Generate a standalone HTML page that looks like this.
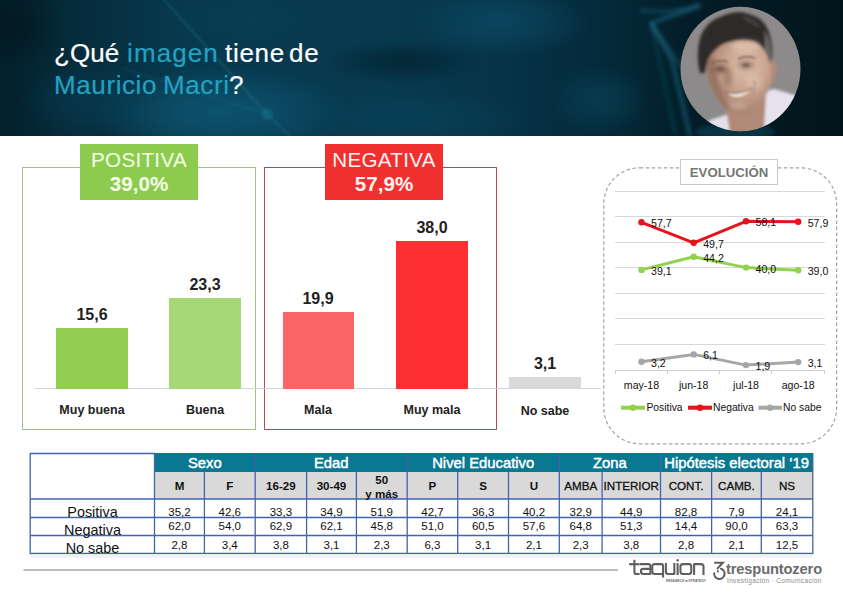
<!DOCTYPE html>
<html><head><meta charset="utf-8">
<style>
*{margin:0;padding:0;box-sizing:border-box}
html,body{width:843px;height:593px;overflow:hidden;background:#fff;font-family:"Liberation Sans",sans-serif}
.a{position:absolute;white-space:nowrap}
#hdr{position:absolute;left:0;top:0;width:843px;height:136px;overflow:hidden;
 background:
  radial-gradient(ellipse 110px 60px at 230px 105px, rgba(16,95,125,.55), rgba(16,95,125,0) 100%),
  radial-gradient(ellipse 130px 55px at 470px 30px, rgba(14,80,110,.55), rgba(14,80,110,0) 100%),
  radial-gradient(ellipse 90px 50px at 120px 120px, rgba(12,75,100,.45), rgba(12,75,100,0) 100%),
  radial-gradient(ellipse 80px 50px at 610px 105px, rgba(12,70,90,.35), rgba(12,70,90,0) 100%),
  linear-gradient(90deg,#031a24 0%,#072c3d 15%,#093650 35%,#0a3850 55%,#062435 72%,#03141c 88%,#02111a 100%);}
.tt{position:absolute;font-size:26px;line-height:31px;color:#fff;letter-spacing:0.6px;white-space:nowrap;-webkit-text-stroke:0.2px currentColor}
.c{color:#22a2c2}
.lab{position:absolute;color:#f4ffe8;text-align:center;white-space:nowrap}
.val{position:absolute;font-size:16px;font-weight:bold;color:#222;text-align:center;width:100px;line-height:18px}
.cat{position:absolute;font-size:12.5px;font-weight:bold;color:#222;text-align:center;width:120px;line-height:15px}
.ev{position:absolute;font-size:10.6px;color:#111;line-height:12px;white-space:nowrap}
.th{position:absolute;color:#fff;font-size:14.8px;font-weight:normal;-webkit-text-stroke:0.45px #fff;text-align:center;line-height:16px}
.sh{position:absolute;color:#111;font-size:11.6px;font-weight:bold;text-align:center;line-height:13px}
.td{position:absolute;color:#111;font-size:11.5px;text-align:center;line-height:13px}
.rl{position:absolute;color:#111;font-size:14.4px;text-align:center;line-height:16px;left:30px;width:125px}
</style></head><body>
<svg class="a" style="left:0;top:0" width="843" height="136" viewBox="0 0 843 136">
 <defs>
  <linearGradient id="hg" x1="0" x2="1" y1="0" y2="0">
   <stop offset="0" stop-color="#03202b"/>
   <stop offset="0.08" stop-color="#052b3a"/>
   <stop offset="0.22" stop-color="#073a4f"/>
   <stop offset="0.45" stop-color="#073a50"/>
   <stop offset="0.6" stop-color="#063347"/>
   <stop offset="0.72" stop-color="#042a3a"/>
   <stop offset="0.82" stop-color="#031d28"/>
   <stop offset="1" stop-color="#02141b"/>
  </linearGradient>
  
  <filter id="g2" x="-50%" y="-50%" width="200%" height="200%"><feGaussianBlur stdDeviation="1.3"/></filter>
 </defs>
 <rect width="843" height="136" fill="url(#hg)"/>
 <defs><radialGradient id="rg0"><stop offset="0" stop-color="#0f5a78" stop-opacity="0.75"/><stop offset="0.5" stop-color="#0f5a78" stop-opacity="0.45"/><stop offset="1" stop-color="#0f5a78" stop-opacity="0"/></radialGradient><radialGradient id="rg1"><stop offset="0" stop-color="#0d4e6a" stop-opacity="0.65"/><stop offset="0.5" stop-color="#0d4e6a" stop-opacity="0.39"/><stop offset="1" stop-color="#0d4e6a" stop-opacity="0"/></radialGradient><radialGradient id="rg2"><stop offset="0" stop-color="#0a475f" stop-opacity="0.5"/><stop offset="0.5" stop-color="#0a475f" stop-opacity="0.30"/><stop offset="1" stop-color="#0a475f" stop-opacity="0"/></radialGradient><radialGradient id="rg3"><stop offset="0" stop-color="#021a24" stop-opacity="0.55"/><stop offset="0.5" stop-color="#021a24" stop-opacity="0.33"/><stop offset="1" stop-color="#021a24" stop-opacity="0"/></radialGradient><radialGradient id="rg4"><stop offset="0" stop-color="#0b4a60" stop-opacity="0.5"/><stop offset="0.5" stop-color="#0b4a60" stop-opacity="0.30"/><stop offset="1" stop-color="#0b4a60" stop-opacity="0"/></radialGradient><radialGradient id="rg5"><stop offset="0" stop-color="#021218" stop-opacity="0.5"/><stop offset="0.5" stop-color="#021218" stop-opacity="0.30"/><stop offset="1" stop-color="#021218" stop-opacity="0"/></radialGradient><radialGradient id="rg6"><stop offset="0" stop-color="#0a4560" stop-opacity="0.4"/><stop offset="0.5" stop-color="#0a4560" stop-opacity="0.24"/><stop offset="1" stop-color="#0a4560" stop-opacity="0"/></radialGradient><radialGradient id="rg7"><stop offset="0" stop-color="#0a4258" stop-opacity="0.35"/><stop offset="0.5" stop-color="#0a4258" stop-opacity="0.21"/><stop offset="1" stop-color="#0a4258" stop-opacity="0"/></radialGradient></defs>
<ellipse cx="220" cy="112" rx="130" ry="45" fill="url(#rg0)"/>
<ellipse cx="500" cy="22" rx="90" ry="35" fill="url(#rg1)"/>
<ellipse cx="420" cy="118" rx="110" ry="28" fill="url(#rg2)"/>
<ellipse cx="400" cy="62" rx="80" ry="22" fill="url(#rg3)"/>
<ellipse cx="600" cy="100" rx="50" ry="35" fill="url(#rg4)"/>
<ellipse cx="15" cy="25" rx="50" ry="45" fill="url(#rg5)"/>
<ellipse cx="80" cy="100" rx="60" ry="40" fill="url(#rg6)"/>
<ellipse cx="250" cy="20" rx="60" ry="25" fill="url(#rg7)"/>
 <filter id="g3" x="-50%" y="-50%" width="200%" height="200%"><feGaussianBlur stdDeviation="2.2"/></filter>
 <g filter="url(#g2)" stroke="#3aa6c8" fill="none" stroke-width="1.6">
  <path d="M164 0 L267 114 L290 136" opacity="0.25"/>
  <path d="M121 68 L267 114" opacity="0.12"/>
 </g>
 <g filter="url(#g3)" stroke="#2f9cc0" fill="none" stroke-width="3">
  <path d="M700 6 L651 23 L672 60 L690 136" opacity="0.45"/>
  <path d="M651 23 L684 70" opacity="0.3"/>
  <path d="M651 23 L664 80 L676 136" opacity="0.2"/>
  <path d="M640 10 Q670 15 700 4" opacity="0.3"/>
 </g>
 <ellipse cx="735" cy="132" rx="40" ry="8" fill="#0c4d62" opacity="0.5" filter="url(#g3)"/>
 <circle cx="267" cy="114" r="6" fill="#2a8fae" opacity="0.25" filter="url(#g2)"/>
</svg>
<div class="tt" style="left:54px;top:38px;letter-spacing:0.1px">¿Qué</div>
<div class="tt c" style="left:127px;top:38px;letter-spacing:1.1px">imagen</div>
<div class="tt" style="left:225px;top:38px;letter-spacing:0.7px">tiene</div>
<div class="tt" style="left:289px;top:38px;letter-spacing:0.8px">de</div>
<div class="tt c" style="left:54px;top:69.5px;letter-spacing:0.6px">Mauricio</div>
<div class="tt c" style="left:163px;top:69.5px;letter-spacing:0.6px">Macri</div>
<div class="tt" style="left:229px;top:69.5px">?</div>

<!-- photo -->
<svg class="a" style="left:680px;top:6px" width="122" height="126" viewBox="0 0 122 126">
 <defs>
  <clipPath id="cp"><ellipse cx="60.5" cy="63" rx="60" ry="62.3"/></clipPath>
  <filter id="bl" x="-30%" y="-30%" width="160%" height="160%"><feGaussianBlur stdDeviation="1.5"/></filter>
  <filter id="bl2" x="-30%" y="-30%" width="160%" height="160%"><feGaussianBlur stdDeviation="1"/></filter>
  <filter id="bl3" x="-50%" y="-50%" width="200%" height="200%"><feGaussianBlur stdDeviation="2.5"/></filter>
  <radialGradient id="sk" cx="0.62" cy="0.4" r="0.65">
   <stop offset="0" stop-color="#dcbeac"/><stop offset="0.45" stop-color="#cba792"/><stop offset="1" stop-color="#9e7a68"/>
  </radialGradient>
 </defs>
 <g clip-path="url(#cp)">
  <rect width="122" height="126" fill="#8d8a8b"/>
  <g filter="url(#bl)">
   <path d="M84 86 L94 83 L118 90 L116 106 L102 118 L86 124 L80 126 Z" fill="#e6e3ee"/>
   <path d="M20 126 L30 114 L49 108 L52 126 Z" fill="#e3e0ea"/>
   <path d="M46 104 L86 88 L84 126 L50 126 Z" fill="#b08a76"/>
   <path d="M88 54 Q96 52 97 61 Q96 73 89 80 Z" fill="#b48c78"/>
   <path d="M25 52 Q27 38 40 33 Q55 27 70 28 Q84 32 88 44 L91 60 Q92 76 88 86 Q82 98 70 106 Q62 110 54 107 Q40 100 33 86 Q26 72 25 52 Z" fill="url(#sk)"/>
   <path d="M26 56 Q28 76 36 90 Q44 102 52 106 Q42 90 38 74 Q35 62 34 50 Z" fill="#94705f" opacity="0.8"/>
   <path d="M18 54 Q17 36 23 25 Q30 14 40 11 Q50 6 61 6 Q72 8 80 13 Q88 20 90 30 Q93 40 92.4 52 L90 57 Q88 50 85 45 Q80 38 73 36 Q64 34 56 35 Q46 36 40 40 Q32 46 28 54 Q26 60 25 67 L20 67 Q18 60 18 54 Z" fill="#2e2a29"/>
   <path d="M84 24 Q91 34 92 52 L90 57 Q88 48 84 43 Q86 34 84 24 Z" fill="#6c6662"/>
   <path d="M62 9 Q74 14 82 22 Q76 20 66 14 Z" fill="#4a4543"/>
  </g>
  <g filter="url(#bl3)">
   <ellipse cx="40" cy="63" rx="8" ry="4.5" fill="#7e5e50" opacity="0.8"/>
   <ellipse cx="66" cy="59" rx="8" ry="4.5" fill="#86665a" opacity="0.65"/>
   <ellipse cx="48" cy="72" rx="4" ry="10" fill="#8f6a58" opacity="0.6"/>
   <ellipse cx="66" cy="40" rx="14" ry="6" fill="#e4c8b6" opacity="0.6"/>
   <ellipse cx="74" cy="76" rx="8" ry="8" fill="#dfc2ae" opacity="0.55"/>
   <ellipse cx="58" cy="100" rx="9" ry="4" fill="#d8baa6" opacity="0.5"/>
  </g>
  <g filter="url(#bl2)">
   <ellipse cx="40" cy="63" rx="3.6" ry="1.6" fill="#6e5a50"/>
   <ellipse cx="66" cy="59" rx="3.6" ry="1.6" fill="#6e5a50"/>
   <path d="M32 57 Q40 53 48 56" stroke="#7d5e50" stroke-width="1.4" fill="none"/>
   <path d="M58 53 Q66 49 75 52" stroke="#7d5e50" stroke-width="1.4" fill="none"/>
   <path d="M48 86.5 Q58 90 70 84 Q62 94 51 90 Z" fill="#ece4dc"/>
   <path d="M45 86 Q58 90 73 82" stroke="#8a5a48" stroke-width="0.9" fill="none"/>
   <path d="M40 76 Q42 86 48 92" stroke="#9a7462" stroke-width="1.2" fill="none"/>
   <path d="M74 74 Q76 82 73 88" stroke="#b08a76" stroke-width="1.1" fill="none"/>
  </g>
 </g>
</svg>

<!-- outline boxes -->
<div class="a" style="left:22px;top:167px;width:234px;height:263px;border:1.3px solid #a2bf8b"></div>
<div class="a" style="left:264px;top:167px;width:233px;height:263px;border:1.3px solid #b44a53"></div>
<div class="lab" style="left:80px;top:144px;width:118px;height:56px;background:#8dcb4f"></div>
<div class="lab" style="left:325px;top:144px;width:118px;height:56px;background:#f0302f"></div>
<div class="lab" style="left:80px;top:148.8px;width:118px;font-size:20.6px;line-height:22px;letter-spacing:0.3px">POSITIVA</div>
<div class="lab" style="left:80px;top:173px;width:118px;font-size:20.6px;line-height:22px;font-weight:bold">39,0%</div>
<div class="lab" style="left:325px;top:148.8px;width:118px;font-size:20.6px;line-height:22px;letter-spacing:0.3px;color:#fff2f0">NEGATIVA</div>
<div class="lab" style="left:325px;top:173px;width:118px;font-size:20.6px;line-height:22px;font-weight:bold;color:#fff2f0">57,9%</div>

<!-- baseline & bars -->
<div class="a" style="left:35px;top:388px;width:566px;height:1px;background:#d4d4d4"></div>
<div class="a" style="left:56px;top:328px;width:72px;height:61px;background:#92cf50"></div>
<div class="a" style="left:169px;top:298px;width:72px;height:91px;background:#a7d877"></div>
<div class="a" style="left:283px;top:312px;width:71px;height:77px;background:#fd6465"></div>
<div class="a" style="left:396px;top:241px;width:72px;height:148px;background:#fe2f31"></div>
<div class="a" style="left:509px;top:377px;width:72px;height:12px;background:#d9d9d9"></div>

<div class="val" style="left:42px;top:305.8px">15,6</div>
<div class="val" style="left:155px;top:275.8px">23,3</div>
<div class="val" style="left:268px;top:289.8px">19,9</div>
<div class="val" style="left:382px;top:218.8px">38,0</div>
<div class="val" style="left:495px;top:354.8px">3,1</div>

<div class="cat" style="left:32px;top:403.2px">Muy buena</div>
<div class="cat" style="left:145px;top:403.2px">Buena</div>
<div class="cat" style="left:258px;top:403.2px">Mala</div>
<div class="cat" style="left:372px;top:403.2px">Muy mala</div>
<div class="cat" style="left:485px;top:403.7px">No sabe</div>

<!-- evolution chart -->
<svg class="a" style="left:0;top:0" width="843" height="593">
 <rect x="603.8" y="167.8" width="232.8" height="276" rx="36" ry="36" fill="none" stroke="#a3a3a3" stroke-width="1.2" stroke-dasharray="3.5 2.5"/>
 <g stroke="#d9d9d9" stroke-width="1">
  <line x1="615" y1="191.5" x2="825" y2="191.5"/>
  <line x1="615" y1="216.5" x2="825" y2="216.5"/>
  <line x1="615" y1="242.5" x2="825" y2="242.5"/>
  <line x1="615" y1="267.5" x2="825" y2="267.5"/>
  <line x1="615" y1="293.5" x2="825" y2="293.5"/>
  <line x1="615" y1="318.5" x2="825" y2="318.5"/>
  <line x1="615" y1="344.5" x2="825" y2="344.5"/>
 </g>
 <g stroke="#d0d0d0" stroke-width="1">
  <line x1="615" y1="370.5" x2="825" y2="370.5"/>
  <line x1="615.5" y1="370" x2="615.5" y2="374"/>
  <line x1="667.5" y1="370" x2="667.5" y2="374"/>
  <line x1="719.5" y1="370" x2="719.5" y2="374"/>
  <line x1="771.5" y1="370" x2="771.5" y2="374"/>
  <line x1="824.5" y1="370" x2="824.5" y2="374"/>
 </g>
 <g fill="none" stroke-width="3" stroke-linejoin="round">
  <polyline points="641.5,222.3 693.7,242.8 746,221.3 798.2,221.8" stroke="#e3141b"/>
  <polyline points="641.5,269.9 693.7,256.8 746,267.6 798.2,270.2" stroke="#92d050"/>
  <polyline points="641.5,361.8 693.7,354.4 746,365.1 798.2,362.1" stroke="#a6a6a6"/>
 </g>
 <g fill="#e3141b"><circle cx="641.5" cy="222.3" r="3.2"/><circle cx="693.7" cy="242.8" r="3.2"/><circle cx="746" cy="221.3" r="3.2"/><circle cx="798.2" cy="221.8" r="3.2"/></g>
 <g fill="#92d050"><circle cx="641.5" cy="269.9" r="3.2"/><circle cx="693.7" cy="256.8" r="3.2"/><circle cx="746" cy="267.6" r="3.2"/><circle cx="798.2" cy="270.2" r="3.2"/></g>
 <g fill="#a6a6a6"><circle cx="641.5" cy="361.8" r="3.2"/><circle cx="693.7" cy="354.4" r="3.2"/><circle cx="746" cy="365.1" r="3.2"/><circle cx="798.2" cy="362.1" r="3.2"/></g>
 <!-- legend -->
 <line x1="621" y1="407.7" x2="645" y2="407.7" stroke="#92d050" stroke-width="4"/><circle cx="633" cy="407.7" r="3.2" fill="#92d050"/>
 <line x1="688" y1="407.7" x2="712" y2="407.7" stroke="#e3141b" stroke-width="4"/><circle cx="700" cy="407.7" r="3.2" fill="#e3141b"/>
 <line x1="758.5" y1="407.7" x2="782" y2="407.7" stroke="#a6a6a6" stroke-width="4"/><circle cx="770" cy="407.7" r="3.2" fill="#a6a6a6"/>
 <!-- table lines -->
 <rect x="154.5" y="453" width="658.5" height="19" fill="#0b7891"/>
 <rect x="154.5" y="472" width="658.5" height="27" fill="#d9d9d9"/>
 <g stroke="#4065aa" stroke-width="1.3" fill="none">
  <line x1="30" y1="453.5" x2="155" y2="453.5"/>
  <line x1="30.2" y1="453" x2="30.2" y2="554"/>
  <line x1="30" y1="499" x2="813" y2="499"/>
  <line x1="30" y1="517.5" x2="813" y2="517.5"/>
  <line x1="30" y1="535.5" x2="813" y2="535.5"/>
  <line x1="30" y1="553.5" x2="813" y2="553.5"/>
  <line x1="154.5" y1="453" x2="154.5" y2="554"/>
  <line x1="812.8" y1="453" x2="812.8" y2="554"/>
  <line x1="255.2" y1="453" x2="255.2" y2="554"/>
  <line x1="407.2" y1="453" x2="407.2" y2="554"/>
  <line x1="559.3" y1="453" x2="559.3" y2="554"/>
  <line x1="660.5" y1="453" x2="660.5" y2="554"/>
  <line x1="204.4" y1="471.5" x2="204.4" y2="554"/>
  <line x1="306.6" y1="471.5" x2="306.6" y2="554"/>
  <line x1="356.4" y1="471.5" x2="356.4" y2="554"/>
  <line x1="457.7" y1="471.5" x2="457.7" y2="554"/>
  <line x1="508.5" y1="471.5" x2="508.5" y2="554"/>
  <line x1="602.1" y1="471.5" x2="602.1" y2="554"/>
  <line x1="711.6" y1="471.5" x2="711.6" y2="554"/>
  <line x1="761.3" y1="471.5" x2="761.3" y2="554"/>
 </g>
 <rect x="31" y="554.3" width="782" height="3.5" fill="#f2f2f2"/>
 <line x1="23.5" y1="570" x2="618" y2="570" stroke="#a6a6a6" stroke-width="1.6"/>
</svg>
<div class="a" style="left:680px;top:159px;width:98px;height:26px;border:1px solid #c9c9c9;background:#fff"></div>
<div class="a" style="left:680px;top:164.5px;width:98px;text-align:center;font-size:13.2px;font-weight:bold;color:#767676;line-height:16px">EVOLUCIÓN</div>

<!-- evolution labels -->
<div class="ev" style="left:651px;top:217px">57,7</div>
<div class="ev" style="left:703.2px;top:237.5px">49,7</div>
<div class="ev" style="left:755.5px;top:216px">58,1</div>
<div class="ev" style="left:807.7px;top:216.5px">57,9</div>
<div class="ev" style="left:651px;top:264.5px">39,1</div>
<div class="ev" style="left:703.2px;top:251.5px">44,2</div>
<div class="ev" style="left:755.5px;top:262.5px">40,0</div>
<div class="ev" style="left:807.7px;top:265px">39,0</div>
<div class="ev" style="left:651px;top:356.5px">3,2</div>
<div class="ev" style="left:703.2px;top:349px">6,1</div>
<div class="ev" style="left:755.5px;top:360px">1,9</div>
<div class="ev" style="left:807.7px;top:357px">3,1</div>
<div class="ev" style="left:611.5px;top:378.5px;width:60px;text-align:center;font-size:10.6px">may-18</div>
<div class="ev" style="left:663.7px;top:378.5px;width:60px;text-align:center;font-size:10.6px">jun-18</div>
<div class="ev" style="left:716px;top:378.5px;width:60px;text-align:center;font-size:10.6px">jul-18</div>
<div class="ev" style="left:768.2px;top:378.5px;width:60px;text-align:center;font-size:10.6px">ago-18</div>
<div class="ev" style="left:646.5px;top:402px;font-size:10.3px">Positiva</div>
<div class="ev" style="left:713px;top:402px;font-size:10.3px">Negativa</div>
<div class="ev" style="left:783px;top:402px;font-size:10.3px">No sabe</div>

<!-- table text -->
<div class="th" style="left:154.5px;top:455px;width:100.7px">Sexo</div>
<div class="th" style="left:255.2px;top:455px;width:152px">Edad</div>
<div class="th" style="left:407.2px;top:455px;width:152px">Nivel Educativo</div>
<div class="th" style="left:559.3px;top:455px;width:101.2px">Zona</div>
<div class="th" style="left:660.5px;top:455px;width:152.3px">Hipótesis electoral ‘19</div>

<div class="sh" style="left:154.5px;top:479px;width:50px">M</div>
<div class="sh" style="left:204.4px;top:479px;width:50.8px">F</div>
<div class="sh" style="left:255.2px;top:479px;width:51.4px">16-29</div>
<div class="sh" style="left:306.6px;top:479px;width:49.8px">30-49</div>
<div class="sh" style="left:356.4px;top:472.5px;width:50.8px;line-height:14px">50<br>y más</div>
<div class="sh" style="left:407.2px;top:479px;width:50.5px">P</div>
<div class="sh" style="left:457.7px;top:479px;width:50.8px">S</div>
<div class="sh" style="left:508.5px;top:479px;width:50.8px">U</div>
<div class="sh" style="left:559.3px;top:479px;width:42.8px;font-weight:normal;-webkit-text-stroke:0.3px #111">AMBA</div>
<div class="sh" style="left:602.1px;top:479px;width:58.4px;font-weight:normal;-webkit-text-stroke:0.3px #111">INTERIOR</div>
<div class="sh" style="left:660.5px;top:479px;width:51.1px;font-weight:normal;-webkit-text-stroke:0.3px #111">CONT.</div>
<div class="sh" style="left:711.6px;top:479px;width:49.7px;font-weight:normal;-webkit-text-stroke:0.3px #111">CAMB.</div>
<div class="sh" style="left:761.3px;top:479px;width:51.5px;font-weight:normal;-webkit-text-stroke:0.3px #111">NS</div>

<div class="rl" style="top:503.5px">Positiva</div>
<div class="rl" style="top:522px">Negativa</div>
<div class="rl" style="top:539.5px">No sabe</div>

<div class="td" style="left:154.5px;top:505.5px;width:49.9px">35,2</div>
<div class="td" style="left:204.4px;top:505.5px;width:50.8px">42,6</div>
<div class="td" style="left:255.2px;top:505.5px;width:51.4px">33,3</div>
<div class="td" style="left:306.6px;top:505.5px;width:49.8px">34,9</div>
<div class="td" style="left:356.4px;top:505.5px;width:50.8px">51,9</div>
<div class="td" style="left:407.2px;top:505.5px;width:50.5px">42,7</div>
<div class="td" style="left:457.7px;top:505.5px;width:50.8px">36,3</div>
<div class="td" style="left:508.5px;top:505.5px;width:50.8px">40,2</div>
<div class="td" style="left:559.3px;top:505.5px;width:42.8px">32,9</div>
<div class="td" style="left:602.1px;top:505.5px;width:58.4px">44,9</div>
<div class="td" style="left:660.5px;top:505.5px;width:51.1px">82,8</div>
<div class="td" style="left:711.6px;top:505.5px;width:49.7px">7,9</div>
<div class="td" style="left:761.3px;top:505.5px;width:51.5px">24,1</div>
<div class="td" style="left:154.5px;top:519.7px;width:49.9px">62,0</div>
<div class="td" style="left:204.4px;top:519.7px;width:50.8px">54,0</div>
<div class="td" style="left:255.2px;top:519.7px;width:51.4px">62,9</div>
<div class="td" style="left:306.6px;top:519.7px;width:49.8px">62,1</div>
<div class="td" style="left:356.4px;top:519.7px;width:50.8px">45,8</div>
<div class="td" style="left:407.2px;top:519.7px;width:50.5px">51,0</div>
<div class="td" style="left:457.7px;top:519.7px;width:50.8px">60,5</div>
<div class="td" style="left:508.5px;top:519.7px;width:50.8px">57,6</div>
<div class="td" style="left:559.3px;top:519.7px;width:42.8px">64,8</div>
<div class="td" style="left:602.1px;top:519.7px;width:58.4px">51,3</div>
<div class="td" style="left:660.5px;top:519.7px;width:51.1px">14,4</div>
<div class="td" style="left:711.6px;top:519.7px;width:49.7px">90,0</div>
<div class="td" style="left:761.3px;top:519.7px;width:51.5px">63,3</div>
<div class="td" style="left:154.5px;top:538.7px;width:49.9px">2,8</div>
<div class="td" style="left:204.4px;top:538.7px;width:50.8px">3,4</div>
<div class="td" style="left:255.2px;top:538.7px;width:51.4px">3,8</div>
<div class="td" style="left:306.6px;top:538.7px;width:49.8px">3,1</div>
<div class="td" style="left:356.4px;top:538.7px;width:50.8px">2,3</div>
<div class="td" style="left:407.2px;top:538.7px;width:50.5px">6,3</div>
<div class="td" style="left:457.7px;top:538.7px;width:50.8px">3,1</div>
<div class="td" style="left:508.5px;top:538.7px;width:50.8px">2,1</div>
<div class="td" style="left:559.3px;top:538.7px;width:42.8px">2,3</div>
<div class="td" style="left:602.1px;top:538.7px;width:58.4px">3,8</div>
<div class="td" style="left:660.5px;top:538.7px;width:51.1px">2,8</div>
<div class="td" style="left:711.6px;top:538.7px;width:49.7px">2,1</div>
<div class="td" style="left:761.3px;top:538.7px;width:51.5px">12,5</div>
<!-- logos -->
<svg class="a" style="left:625px;top:555px" width="85" height="30" viewBox="0 0 85 30"><g transform="scale(0.94 1) translate(0.5 0)">
 <g fill="none" stroke="#5f5f5f" stroke-width="2.2" stroke-linecap="square" stroke-linejoin="round">
  <path d="M9.5 5.8 V17 Q9.5 19 11.5 19 H14"/>
  <path d="M5 9.2 H14"/>
  <path d="M16.5 9.2 H24.5 Q26.5 9.2 26.5 11.2 V19 H19 Q16.5 19 16.5 16.8 V15.8 Q16.5 13.8 19 13.8 H26"/>
  <path d="M40 19 H31 Q28.5 19 28.5 16.6 V11.6 Q28.5 9.2 31 9.2 H38 Q40 9.2 40 11.2 V21.5"/>
  <path d="M43 9.2 V16.6 Q43 19 45.5 19 H52 V9.2"/>
  <path d="M55.5 9.2 V19"/>
  <path d="M61 9.2 H67.5 Q70 9.2 70 11.6 V16.6 Q70 19 67.5 19 H61 Q58.5 19 58.5 16.6 V11.6 Q58.5 9.2 61 9.2 Z"/>
  <path d="M73 19 V9.2 H80.5 Q83 9.2 83 11.6 V19"/>
 </g>
 <circle cx="55.5" cy="5.2" r="1.2" fill="#5f5f5f"/></g>
 <text x="41" y="27" font-family="Liberation Sans" font-size="3.6" font-weight="bold" fill="#6a6a6a" textLength="40" lengthAdjust="spacingAndGlyphs">RESEARCH ■ STRATEGY</text>
</svg>
<svg class="a" style="left:708px;top:557px" width="24" height="24" viewBox="0 0 24 24"><g fill="none" stroke="#5e5e5e" stroke-width="2.1" stroke-linecap="round"><path d="M7 5.7 H14.8 L9.6 11.4"/><path d="M13 11.8 A5.2 5.2 0 1 1 6.2 16.2"/></g><circle cx="9.9" cy="14.4" r="1.1" fill="#5e5e5e"/></svg>
<div class="a" style="left:726px;top:561px;font-size:14.7px;font-weight:bold;color:#6b6b6b;line-height:16px;letter-spacing:-0.15px">trespuntozero</div>
<div class="a" style="left:727px;top:577px;font-size:6.5px;color:#8a8a8a;line-height:8px;letter-spacing:0.35px">Investigación · Comunicación</div>
</body></html>
